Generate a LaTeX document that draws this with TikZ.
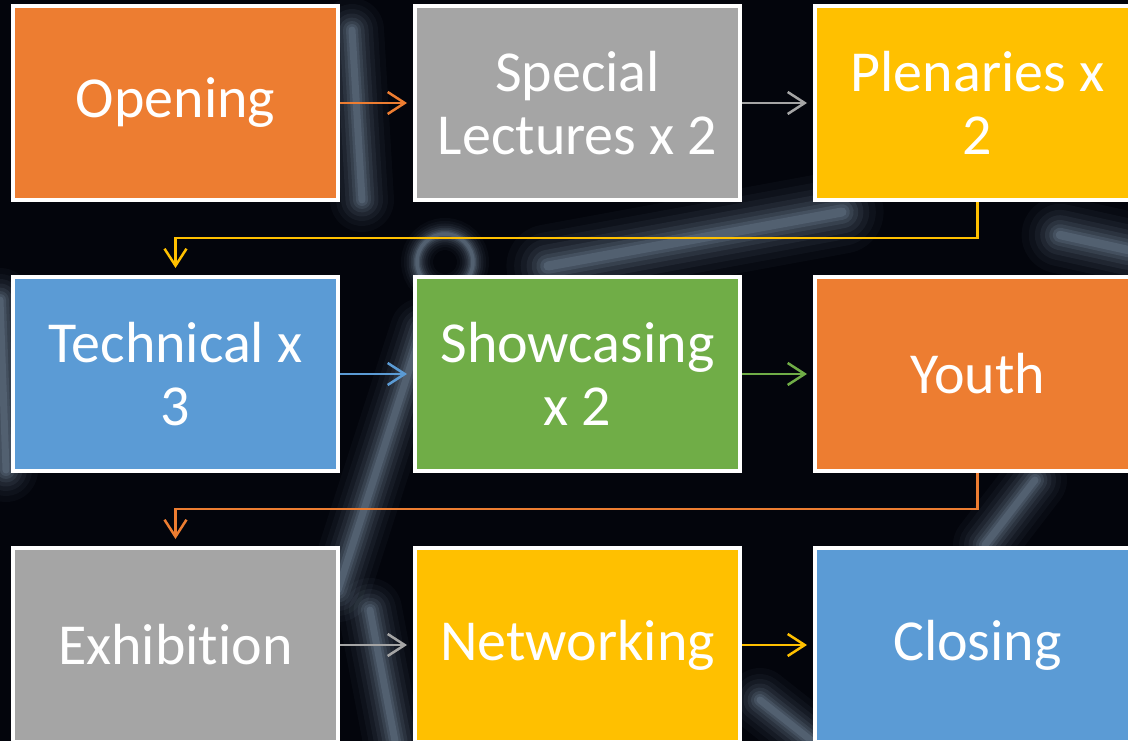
\documentclass[tikz,border=0pt]{standalone}
\usepackage{fontspec}
\setmainfont[Ligatures=NoCommon]{Carlito}
\usetikzlibrary{arrows.meta}

\definecolor{nightbg}{HTML}{03050C}
\definecolor{tubec}{HTML}{A9C3DA}
\definecolor{orangebox}{HTML}{ED7D31}
\definecolor{greybox}{HTML}{A5A5A5}
\definecolor{yellowbox}{HTML}{FFC000}
\definecolor{bluebox}{HTML}{5B9BD5}
\definecolor{greenbox}{HTML}{70AD47}

% soft light streak of the photo behind the boxes
\newcommand\tube[2][1]{%
  \foreach \w/\o in {64/0.035,52/0.045,42/0.055,33/0.07,25/0.085,18/0.1,12/0.12,7/0.14}
    \draw[tubec, line width=#1*\w pt, opacity=\o, line cap=round] #2;}

\begin{document}
\begin{tikzpicture}[x=1pt,y=-1pt,
  stage/.style={draw=white, line width=4pt, minimum width=325pt,
    minimum height=194pt, inner sep=0pt, text=white, align=center,
    font=\fontsize{58}{63}\selectfont},
  flow/.style={line width=2.5pt, -{Straight Barb[length=17pt,width=22pt]}}]
\useasboundingbox (0,0) rectangle (1128,741);
\clip (0,0) rectangle (1128,741);
\fill[nightbg] (0,0) rectangle (1128,741);

% background
\tube{(352,30) -- (362,200)}
\tube{(338,590) -- (422,330)}
\tube[1.3]{(548,266) -- (842,212)}
\tube[0.5]{(445,262) circle (28)}
\tube[1.2]{(1060,235) -- (1128,250)}
\tube{(985,545) -- (1035,480)}
\tube{(0,300) -- (6,470)}
\tube{(370,610) -- (395,741)}
\tube{(760,700) -- (812,741)}

% stages
\node[stage, fill=orangebox] (open) at (175.5,103) {Opening};
\node[stage, fill=greybox]   (spec) at (577.5,103) {Special\\Lectures x 2};
\node[stage, fill=yellowbox] (plen) at (977.5,103) {Plenaries x\\2};
\node[stage, fill=bluebox]   (tech) at (175.5,374) {Technical x\\3};
\node[stage, fill=greenbox]  (show) at (577.5,374) {Showcasing\\x 2};
\node[stage, fill=orangebox] (youth) at (977.5,374) {Youth};
\node[stage, fill=greybox]   (exhib) at (175.5,645) {Exhibition};
\node[stage, fill=yellowbox] (netw) at (577.5,645) {Networking};
\node[stage, fill=bluebox]   (close) at (977.5,645) {Closing};

% connectors
\draw[flow, orangebox, shorten >=6pt] (open) -- (spec);
\draw[flow, greybox, shorten >=6pt] (spec) -- (plen);
\draw[flow, yellowbox, shorten >=7pt] (plen.south) -- ++(0,36) -| (tech.north);
\draw[flow, bluebox, shorten >=6pt] (tech) -- (show);
\draw[flow, greenbox, shorten >=6pt] (show) -- (youth);
\draw[flow, orangebox, shorten >=7pt] (youth.south) -- ++(0,36) -| (exhib.north);
\draw[flow, greybox, shorten >=6pt] (exhib) -- (netw);
\draw[flow, yellowbox, shorten >=6pt] (netw) -- (close);
\end{tikzpicture}
\end{document}
